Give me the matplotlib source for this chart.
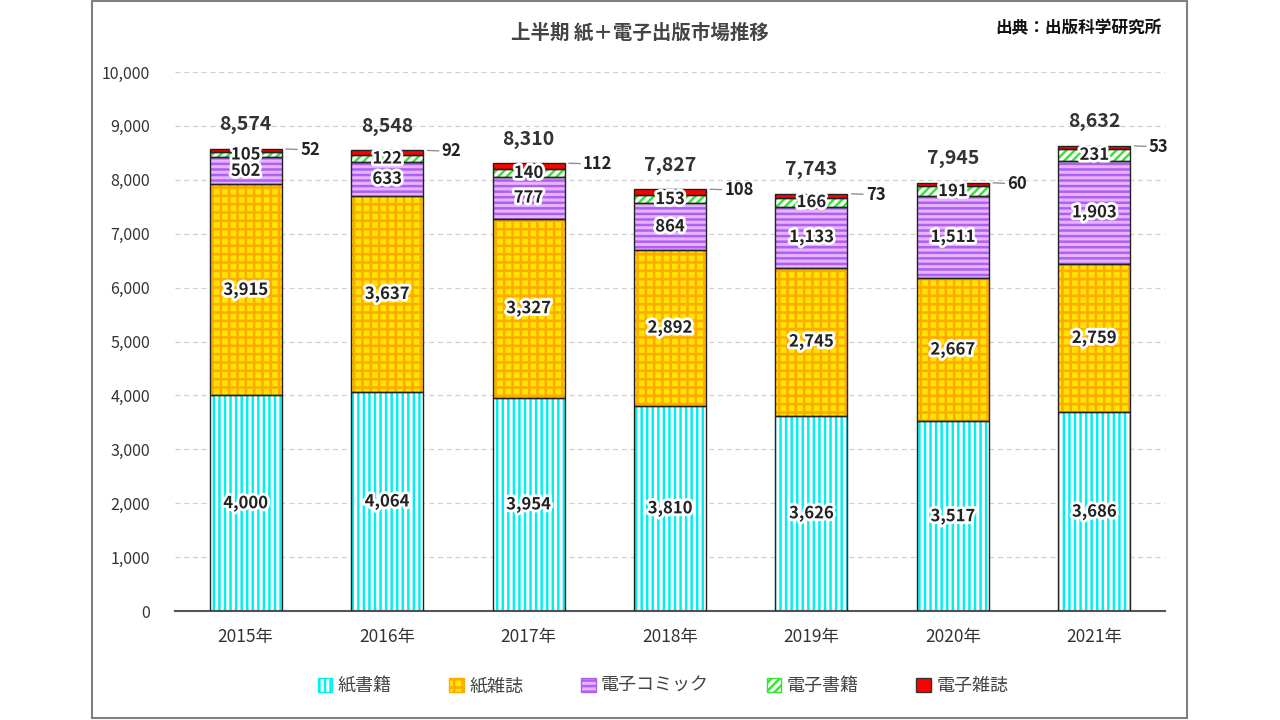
import matplotlib.pyplot as plt
import matplotlib.patches as patches
import matplotlib.patheffects as pe
import numpy as np

plt.rcParams['font.family'] = ['Noto Sans CJK JP', 'DejaVu Sans']

years = ['2015年', '2016年', '2017年', '2018年', '2019年', '2020年', '2021年']
paper_books = [4000, 4064, 3954, 3810, 3626, 3517, 3686]
paper_magazines = [3915, 3637, 3327, 2892, 2745, 2667, 2759]
e_comics = [502, 633, 777, 864, 1133, 1511, 1903]
e_books = [105, 122, 140, 153, 166, 191, 231]
e_magazines = [52, 92, 112, 108, 73, 60, 53]
totals = [8574, 8548, 8310, 7827, 7743, 7945, 8632]
series_names = ['紙書籍', '紙雑誌', '電子コミック', '電子書籍', '電子雑誌']

# fill colour, hatch colour, hatch pattern
styles = [
    ('white', '#00F0F0', '|||'),
    ('#FFE400', '#FFAA00', '++'),
    ('#E6B3FF', '#B060F0', '---'),
    ('white', '#33E633', '////'),
    ('#FF0000', '#FF0000', None),
]

fig = plt.figure(figsize=(12.8, 7.2), dpi=100)
fig.patches.append(patches.Rectangle((92 / 1280, 2 / 720), 1095 / 1280, 717 / 720,
                                     transform=fig.transFigure, fill=False,
                                     edgecolor='#808080', linewidth=1.5))
ax = fig.add_axes([175 / 1280, 1 - 611 / 720, 990 / 1280, 539 / 720])

x = np.arange(len(years))
width = 0.51
plt.rcParams['hatch.linewidth'] = 1.8
data = [paper_books, paper_magazines, e_comics, e_books, e_magazines]
bottom = np.zeros(len(years))
for vals, (fc, hc, hatch), name in zip(data, styles, series_names):
    vals = np.array(vals)
    # hatched fill first, then a plain outline on top
    ax.bar(x, vals, width, bottom=bottom, color=fc, edgecolor=hc, hatch=hatch,
           linewidth=0, zorder=2)
    ax.bar(x, vals, width, bottom=bottom, fill=False, edgecolor='#222222',
           linewidth=1.0, zorder=3, label='_nolegend_')
    bottom += vals

stroke = [pe.withStroke(linewidth=4, foreground='white')]
bottom = np.zeros(len(years))
for k, vals in enumerate(data):
    vals = np.array(vals)
    for i, v in enumerate(vals):
        if k < 4:
            ax.text(x[i], bottom[i] + v / 2, f'{v:,}', ha='center', va='center',
                    fontsize=12, fontweight='bold', color='#222222',
                    path_effects=stroke, zorder=5)
        else:
            # small top segment: label outside with a leader line
            ax.annotate(f'{v:,}', xy=(x[i] + width / 2, bottom[i] + v),
                        xytext=(x[i] + width / 2 + 0.13, bottom[i] + v - 20),
                        ha='left', va='center', fontsize=12, fontweight='bold',
                        color='#222222', zorder=5,
                        arrowprops=dict(arrowstyle='-', color='#909090', lw=1,
                                        shrinkA=0, shrinkB=3))
    bottom += vals

for i, t in enumerate(totals):
    ax.annotate(f'{t:,}', xy=(x[i], bottom[i]), xytext=(0, 24), textcoords='offset pixels',
                ha='center', va='center', fontsize=14, fontweight='bold',
                color='#333333', zorder=5)

ax.set_xlim(-0.5, len(years) - 0.5)
ax.set_ylim(0, 10000)
ax.set_yticks(np.arange(0, 10001, 1000))
ax.set_yticklabels([f'{v:,}' for v in range(0, 10001, 1000)])
ax.set_xticks(x)
ax.set_xticklabels(years)
ax.tick_params(axis='y', length=0, pad=18, labelsize=11.5, labelcolor='#333333')
ax.tick_params(axis='x', length=0, pad=12, labelsize=12.5, labelcolor='#333333')
ax.grid(axis='y', color='#D0D0D0', linestyle=(0, (4, 3)), linewidth=0.9, zorder=0)
ax.set_axisbelow(True)
for s in ['top', 'right', 'left']:
    ax.spines[s].set_visible(False)
ax.spines['bottom'].set_color('#555555')
ax.spines['bottom'].set_linewidth(1.5)

handles = []
for (fc, hc, hatch), name in zip(styles, series_names):
    handles.append(patches.Patch(facecolor=fc, edgecolor='#333333', hatch=hatch, label=name))
leg = fig.legend(handles=handles, loc='center', bbox_to_anchor=(0.518, 1 - 686 / 720),
                 ncol=5, frameon=False, fontsize=13, handlelength=0.8, handleheight=0.8,
                 handletextpad=0.3, columnspacing=3.2)
for h, (fc, hc, hatch) in zip(leg.legend_handles, styles):
    h.set_edgecolor(hc if hatch else '#333333')
    h.set_linewidth(1.0)
for t in leg.get_texts():
    t.set_color('#444444')

fig.text(640 / 1280, 1 - 33 / 720, '上半期 紙＋電子出版市場推移', ha='center', va='center',
         fontsize=14, fontweight='bold', color='#444444')
fig.text(1162 / 1280, 1 - 28 / 720, '出典：出版科学研究所', ha='right', va='center',
         fontsize=12, fontweight='bold', color='#111111')

fig.savefig('out.png', dpi=100)
